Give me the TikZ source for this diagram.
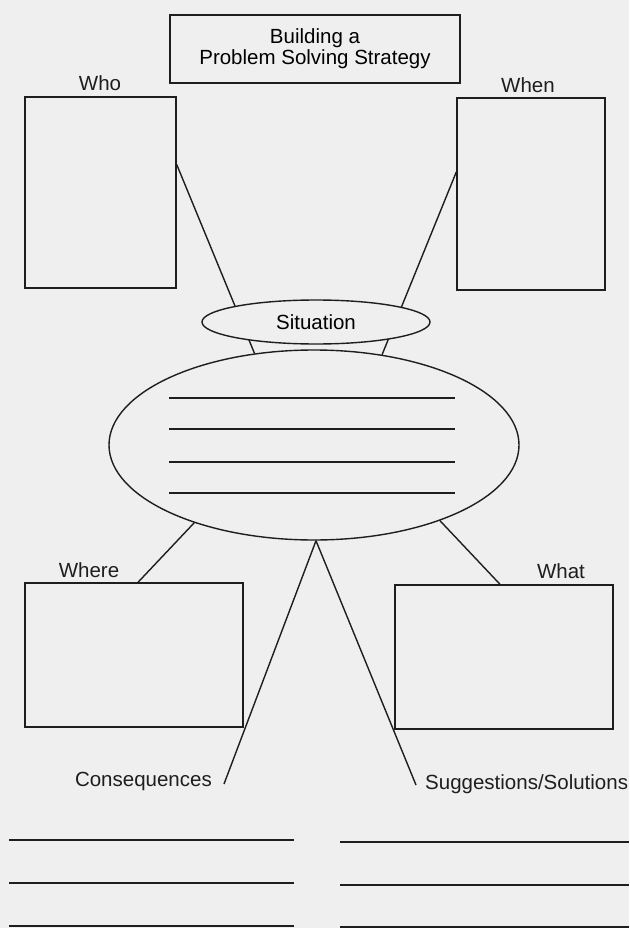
\documentclass[tikz,border=0pt]{standalone}
\usepackage{fontspec}
\setmainfont{Liberation Sans}
\usetikzlibrary{shapes.geometric, calc}

\definecolor{paper}{RGB}{239,239,239}
\definecolor{ink}{RGB}{30,30,30}
\newcommand{\sheetfont}{\fontsize{20.5}{21}\selectfont}

\begin{document}
\begin{tikzpicture}[
  x=1pt, y=-1pt,
  frame/.style={draw=ink, line width=1.4pt, inner sep=0pt, align=center, font=\sheetfont},
  oval/.style={ellipse, draw=ink, line width=1.4pt, inner sep=0pt, fill=paper, font=\sheetfont},
  tag/.style={font=\sheetfont, text=ink, inner sep=0pt, anchor=base},
  link/.style={draw=ink, line width=1.4pt},
  rule/.style={draw=ink, line width=1.3pt},
]
  % ── Sheet ──
  \fill[paper] (0,0) rectangle (629,928);
  \useasboundingbox (0,0) rectangle (629,928);

  % ── Title ──
  \node[frame, minimum width=290, minimum height=68] (title) at (315,49)
    {Building a\\Problem Solving Strategy};

  % ── Row 1: Who / When ──
  \node[frame, minimum width=151, minimum height=191] (who)  at (100.5,192.5) {};
  \node[frame, minimum width=148, minimum height=192] (when) at (531,194) {};
  \node[tag] (wholbl)  at (100,91) {Who};
  \node[tag] (whenlbl) at (528,93) {When};

  % ── Centre: the situation ──
  \node[oval, minimum width=410, minimum height=190] (big) at (314,445) {};
  \foreach \y in {398,429,462,493}
    \draw[rule] (169,\y) -- (455,\y);

  % ── Row 2: Where / What ──
  \node[frame, minimum width=218, minimum height=144] (where) at (134,655) {};
  \node[frame, minimum width=218, minimum height=144] (what)  at (504,657) {};
  \node[tag] (wherelbl) at (89,577) {Where};
  \node[tag] (whatlbl)  at (561,578) {What};

  % ── Outcomes ──
  \coordinate (consend) at (224,784);
  \coordinate (suggend) at (416,785);
  \node[tag, anchor=base east] (conslbl) at (212,786) {Consequences};
  \node[tag, anchor=base west] (sugglbl) at (425,789) {Suggestions/Solutions};

  % ══ Connectors ══
  \draw[link] ([yshift=28pt]who.east)  -- (big.123);
  \draw[link] ([yshift=22pt]when.west) -- (big.53);
  \draw[link] (big.213) -- ([xshift=4pt]where.north);
  \draw[link] (big.329) -- ([xshift=-4pt]what.north);
  \draw[link] ([xshift=2pt]big.south) -- (consend);
  \draw[link] ([xshift=2pt]big.south) -- (suggend);

  % situation label sits over the two upper links
  \node[oval, minimum width=228, minimum height=44] (situation) at (316,322) {Situation};

  % ── Write-in lines ──
  \foreach \y in {840,883,926}
    \draw[rule] (9,\y) -- (294,\y);
  \foreach \y in {842,885,927}
    \draw[rule] (340,\y) -- (629,\y);

\end{tikzpicture}
\end{document}
